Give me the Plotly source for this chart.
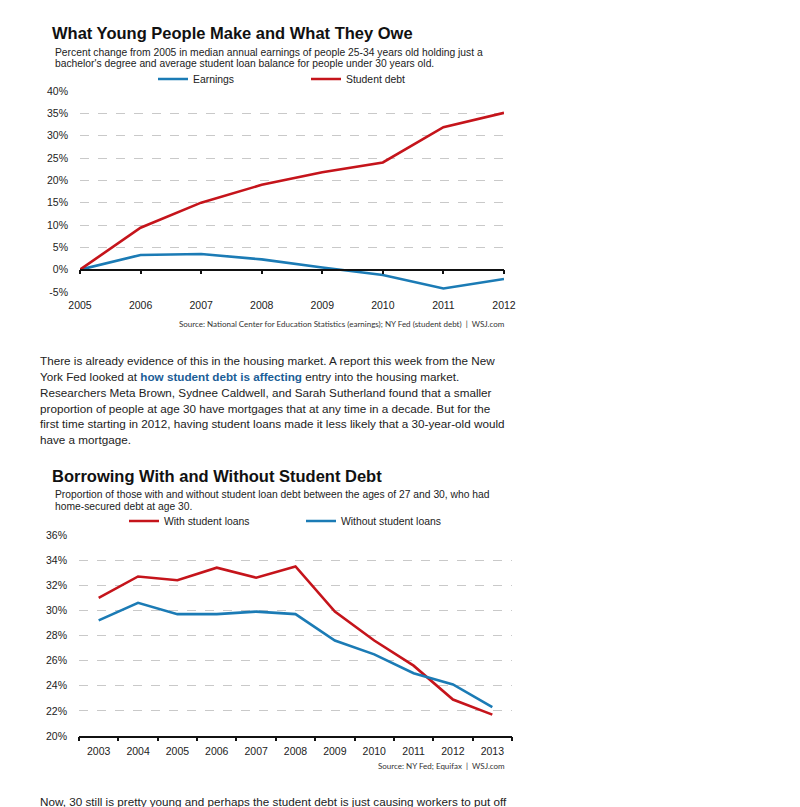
import plotly.graph_objects as go

# ---------------- data ----------------
years1 = [2005, 2006, 2007, 2008, 2009, 2010, 2011, 2012]
earnings = [0.0, 3.3, 3.5, 2.3, 0.5, -1.2, -4.2, -2.1]
student_debt = [0.0, 9.4, 15.0, 19.0, 21.8, 24.0, 31.9, 35.1]

years2 = [2003, 2004, 2005, 2006, 2007, 2008, 2009, 2010, 2011, 2012, 2013]
with_loans = [31.0, 32.7, 32.4, 33.4, 32.6, 33.5, 29.9, 27.6, 25.6, 22.9, 21.7]
without_loans = [29.2, 30.6, 29.7, 29.7, 29.9, 29.7, 27.6, 26.5, 25.0, 24.1, 22.3]

y1_ticks = [-5, 0, 5, 10, 15, 20, 25, 30, 35, 40]
y2_ticks = [20, 22, 24, 26, 28, 30, 32, 34, 36]

title1 = "What Young People Make and What They Owe"
sub1 = ["Percent change from 2005 in median annual earnings of people 25-34 years old holding just a",
        "bachelor's degree and average student loan balance for people under 30 years old."]
source1 = "Source: National Center for Education Statistics (earnings); NY Fed (student debt)  |  WSJ.com"

title2 = "Borrowing With and Without Student Debt"
sub2 = ["Proportion of those with and without student loan debt between the ages of 27 and 30, who had",
        "home-secured debt at age 30."]
source2 = "Source: NY Fed; Equifax  |  WSJ.com"

body_lines = [
    "There is already evidence of this in the housing market. A report this week from the New",
    "York Fed looked at <b><span style='color:#1b5e97'>how student debt is affecting</span></b> entry into the housing market.",
    "Researchers Meta Brown, Sydnee Caldwell, and Sarah Sutherland found that a smaller",
    "proportion of people at age 30 have mortgages that at any time in a decade. But for the",
    "first time starting in 2012, having student loans made it less likely that a 30-year-old would",
    "have a mortgage.",
]
top_line = "could start to become more unwieldy."
bottom_line = "Now, 30 still is pretty young and perhaps the student debt is just causing workers to put off"

# ---------------- layout helpers ----------------
W, H = 800, 807
OFF = 8  # page body margin in the viewer
def px(p):
    return (p - OFF) / W
def py(p):
    return 1 - (p - OFF) / H

RED = "#c5141b"
BLUE = "#1b7bb5"
GRID = "#c9c9c9"
SANS = "Liberation Sans, Arial, sans-serif"

fig = go.Figure()

fig.add_trace(go.Scatter(x=years1, y=earnings, mode="lines", name="Earnings",
                         line=dict(color=BLUE, width=2.6), xaxis="x", yaxis="y", legend="legend"))
fig.add_trace(go.Scatter(x=years1, y=student_debt, mode="lines", name="Student debt",
                         line=dict(color=RED, width=2.6), xaxis="x", yaxis="y", legend="legend"))
fig.add_trace(go.Scatter(x=years2, y=with_loans, mode="lines", name="With student loans",
                         line=dict(color=RED, width=2.6), xaxis="x2", yaxis="y2", legend="legend2"))
fig.add_trace(go.Scatter(x=years2, y=without_loans, mode="lines", name="Without student loans",
                         line=dict(color=BLUE, width=2.6), xaxis="x2", yaxis="y2", legend="legend2"))

y1_dom = [py(292), py(91)]
y2_dom = [py(736), py(535)]
y1_range = [-5, 40]
zero_pos = y1_dom[0] + (0 - y1_range[0]) / (y1_range[1] - y1_range[0]) * (y1_dom[1] - y1_dom[0])

tickfont = dict(family=SANS, size=10.5, color="#222")
legfont = dict(family=SANS, size=10.4, color="#222")

fig.update_layout(
    width=W, height=H, margin=dict(l=0, r=0, t=0, b=0, autoexpand=False),
    paper_bgcolor="white", plot_bgcolor="white",
    showlegend=True,
    xaxis=dict(domain=[px(80), px(504)], range=[2005, 2012], anchor="y",
               tickvals=years1, ticks="", showline=False, showgrid=False, zeroline=False,
               tickfont=tickfont, ticklabelstandoff=5),
    xaxis3=dict(overlaying="x", range=[2005, 2012], anchor="free", position=zero_pos,
                tickvals=years1, ticks="outside", ticklen=4, tickwidth=1.5, tickcolor="#111",
                showticklabels=False, showline=True, linecolor="#111", linewidth=1.6,
                showgrid=False, zeroline=False),
    yaxis=dict(domain=y1_dom, range=y1_range, anchor="x", tickvals=y1_ticks,
               ticktext=[f"{v}%" for v in y1_ticks], showgrid=True, gridcolor=GRID,
               griddash="dash", gridwidth=1, zeroline=False, showline=False, ticks="",
               tickfont=tickfont, ticklabelstandoff=11),
    xaxis2=dict(domain=[px(79), px(512)], range=[2002.5, 2013.5], anchor="y2",
                tickvals=years2, ticks="", showline=True, linecolor="#111", linewidth=1.6,
                showgrid=False, zeroline=False, tickfont=tickfont, ticklabelstandoff=5),
    xaxis4=dict(overlaying="x2", range=[2002.5, 2013.5], anchor="y2",
                tickmode="linear", tick0=2002.5, dtick=1, ticks="outside", ticklen=4,
                tickwidth=1.5, tickcolor="#111", showticklabels=False, showline=False,
                showgrid=False, zeroline=False),
    yaxis2=dict(domain=y2_dom, range=[20, 36], anchor="x2", tickvals=y2_ticks,
                ticktext=[f"{v}%" for v in y2_ticks], showgrid=True, gridcolor=GRID,
                griddash="dash", gridwidth=1, zeroline=False, showline=False, ticks="",
                tickfont=tickfont, ticklabelstandoff=11),
    legend=dict(orientation="h", x=px(153), y=py(79), xanchor="left", yanchor="middle",
                entrywidth=108, entrywidthmode="pixels", itemwidth=30,
                font=legfont, bgcolor="rgba(0,0,0,0)", traceorder="normal"),
    legend2=dict(orientation="h", x=px(124), y=py(521), xanchor="left", yanchor="middle",
                 entrywidth=132, entrywidthmode="pixels", itemwidth=30,
                 font=legfont, bgcolor="rgba(0,0,0,0)", traceorder="normal"),
)

# empty traces to activate the overlay tick axes
fig.add_trace(go.Scatter(x=[], y=[], xaxis="x3", yaxis="y", showlegend=False, hoverinfo="skip"))
fig.add_trace(go.Scatter(x=[], y=[], xaxis="x4", yaxis="y2", showlegend=False, hoverinfo="skip"))

ann = []
def text(x, y, s, size, bold=False, color="#111", family=SANS, xanchor="left"):
    ann.append(dict(x=px(x), y=py(y), xref="paper", yref="paper", text=(f"<b>{s}</b>" if bold else s),
                    showarrow=False, xanchor=xanchor, yanchor="middle",
                    font=dict(family=family, size=size, color=color)))

text(38, -2, top_line, 11.7, color="#222")
text(50, 33, title1, 16.5, bold=True)
text(53, 52, sub1[0], 10.3, color="#222")
text(53, 64, sub1[1], 10.3, color="#222")
text(507, 324, source1, 8, color="#333", family="Lato, Open Sans, sans-serif", xanchor="right")

for i, line in enumerate(body_lines):
    text(38, 360 + i * 16, line, 11.7, color="#222")

text(50, 476, title2, 16.5, bold=True)
text(53, 494, sub2[0], 10.3, color="#222")
text(53, 506, sub2[1], 10.3, color="#222")
text(507, 766, source2, 8, color="#333", family="Lato, Open Sans, sans-serif", xanchor="right")

text(38, 801, bottom_line, 11.7, color="#222")

fig.update_layout(annotations=ann)
fig.write_html("out.html")
